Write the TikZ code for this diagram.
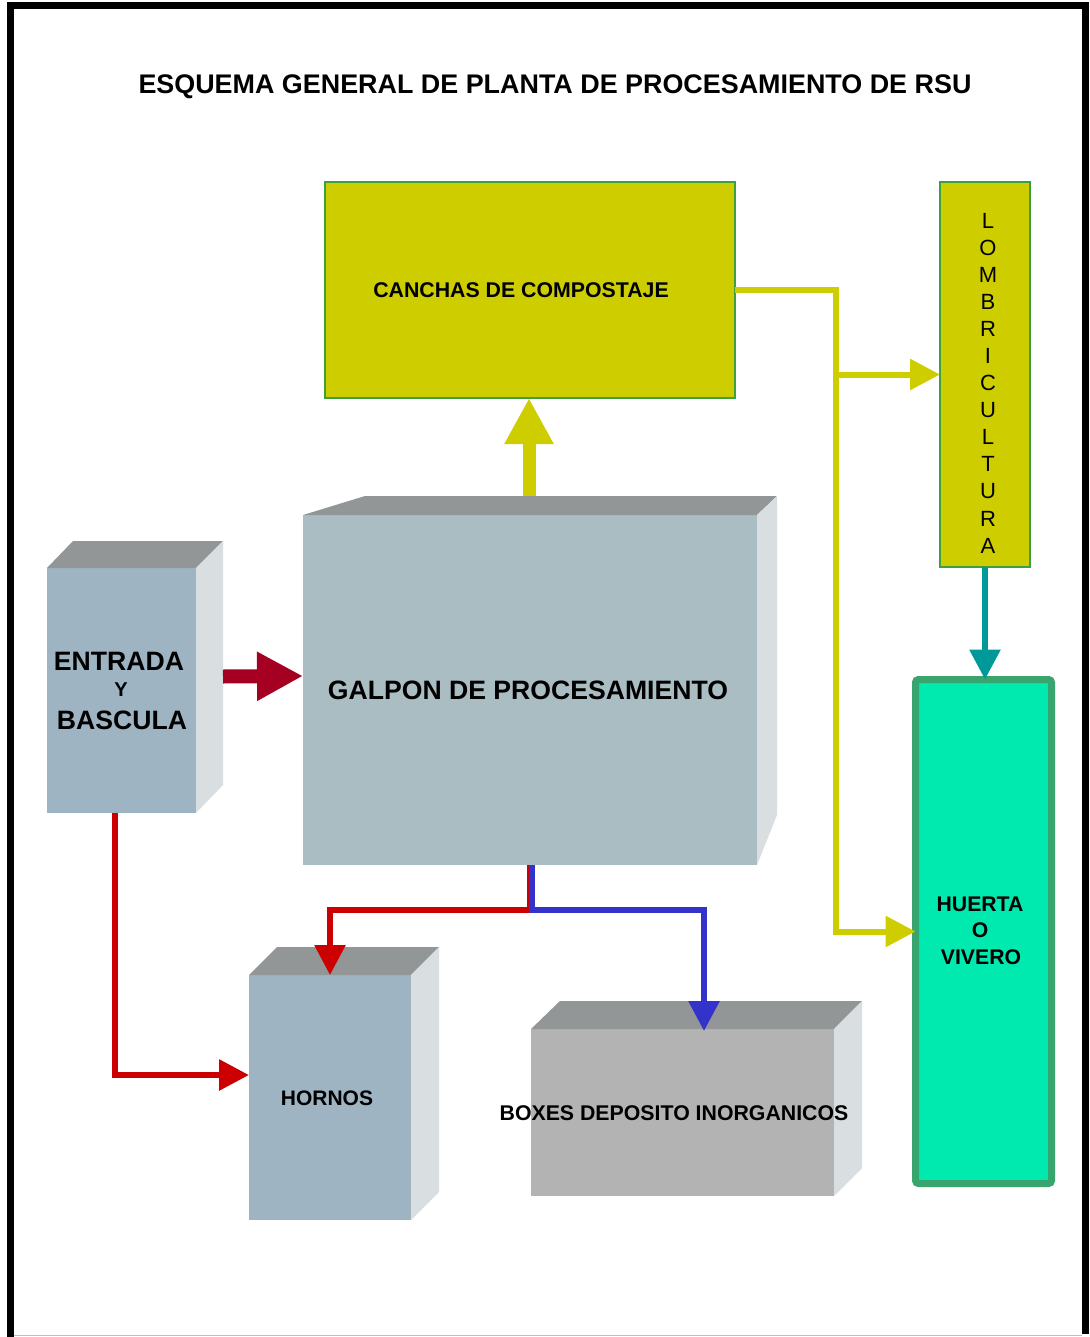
\documentclass[tikz,border=0pt]{standalone}
\usepackage{fontspec}
\setmainfont{Liberation Sans}
\usetikzlibrary{arrows.meta,calc}

\definecolor{topgray}{RGB}{147,150,150}
\definecolor{sidegray}{RGB}{217,222,224}
\definecolor{galponfill}{RGB}{169,189,194}
\definecolor{bluegray}{RGB}{158,180,194}
\definecolor{boxgray}{RGB}{179,179,179}
\definecolor{olive}{RGB}{206,205,0}
\definecolor{leafgreen}{RGB}{60,160,60}
\definecolor{mint}{RGB}{0,234,176}
\definecolor{mintedge}{RGB}{56,165,110}
\definecolor{wine}{RGB}{165,0,33}
\definecolor{redline}{RGB}{204,0,0}
\definecolor{blueline}{RGB}{51,51,204}
\definecolor{tealline}{RGB}{0,153,153}

\begin{document}
\begin{tikzpicture}[x=1pt,y=-1pt,
  face/.style={rectangle,draw=none,inner sep=0pt,outer sep=0pt},
  bigtxt/.style={font=\fontsize{26.6}{30}\selectfont\bfseries,inner sep=0pt},
  midtxt/.style={font=\fontsize{21.3}{24}\selectfont\bfseries,inner sep=0pt},
  gardentxt/.style={font=\fontsize{21.2}{24}\selectfont\bfseries,inner sep=0pt},
  lettxt/.style={font=\fontsize{22}{24}\selectfont,inner sep=0pt},
  thin arrow/.style={line width=6pt,-{Triangle[length=30pt,width=30pt]}},
  fat arrow/.style={-{Triangle[length=46pt,width=46pt]}}
]
\useasboundingbox (0,0) rectangle (1089,1337);
\fill[white] (0,0) rectangle (1089,1337);

% page frame
\draw[black,line width=7pt] (10.5,1337) -- (10.5,6) -- (1085.5,6) -- (1085.5,1334);
\draw[black!25,line width=1.5pt] (14,1335.5) -- (1082,1335.5);

% title
\node[font=\fontsize{26.9}{30}\selectfont\bfseries,inner sep=0pt,anchor=base] (title) at (555,94)
  {ESQUEMA GENERAL DE PLANTA DE PROCESAMIENTO DE RSU};

% composting yard
\node[face,draw=leafgreen,line width=1.5pt,fill=olive,minimum width=410pt,minimum height=216pt] (canchas) at (530,290) {};
\node[midtxt] (tcanchas) at (521,290) {CANCHAS DE COMPOSTAJE};

% vermiculture column
\node[face,draw=leafgreen,line width=1.5pt,fill=olive,minimum width=90pt,minimum height=385pt] (lomb) at (985,374.5) {};
\foreach \l [count=\i from 0] in {L,O,M,B,R,I,C,U,L,T,U,R,A}
  \node[lettxt] (lomb\i) at (988,220.5+27.1*\i) {\l};

% vegetable garden / nursery
\node[face,draw=mintedge,line width=7pt,fill=mint,rounded corners=3pt,minimum width=136pt,minimum height=504pt] (huerta) at (983.5,931.5) {};
\node[gardentxt] (thuerta1) at (980,904) {HUERTA};
\node[gardentxt] (thuerta2) at (980,930) {O};
\node[gardentxt] (thuerta3) at (981,957) {VIVERO};

% processing shed (3D block)
\node[face,fill=galponfill,minimum width=454pt,minimum height=350pt] (galpon) at (530,690) {};
\fill[topgray] (galpon.north west) -- ++(62,-19) -- ++(412,0) -- (galpon.north east) -- cycle;
\fill[sidegray] (galpon.north east) -- ++(20,-19) -- ++(0,319) -- (galpon.south east) -- cycle;
\node[bigtxt] (tgalpon) at (528,690) {GALPON DE PROCESAMIENTO};

% entrance and weighbridge
\node[face,fill=bluegray,minimum width=149pt,minimum height=245pt] (entrada) at (121.5,690.5) {};
\fill[topgray] (entrada.north west) -- ++(26,-27) -- ++(150,0) -- (entrada.north east) -- cycle;
\fill[sidegray] (entrada.north east) -- ++(27,-27) -- ++(0,244) -- (entrada.south east) -- cycle;
\node[bigtxt] (tentrada1) at (119,661) {ENTRADA};
\node[bigtxt,font=\fontsize{20}{22}\selectfont\bfseries] (tentrada2) at (121,690) {Y};
\node[bigtxt] (tentrada3) at (122,720) {BASCULA};

% kilns
\node[face,fill=bluegray,minimum width=162pt,minimum height=245pt] (hornos) at (330,1097.5) {};
\fill[topgray] (hornos.north west) -- ++(28,-28) -- ++(162,0) -- (hornos.north east) -- cycle;
\fill[sidegray] (hornos.north east) -- ++(28,-28) -- ++(0,245) -- (hornos.south east) -- cycle;
\node[midtxt,font=\fontsize{21}{24}\selectfont\bfseries] (thornos) at (327,1098) {HORNOS};

% inorganic storage bays
\node[face,fill=boxgray,minimum width=303pt,minimum height=167pt] (boxes) at (682.5,1112.5) {};
\fill[topgray] (boxes.north west) -- ++(29,-28) -- ++(302,0) -- (boxes.north east) -- cycle;
\fill[sidegray] (boxes.north east) -- ++(28,-28) -- ++(0,167) -- (boxes.south east) -- cycle;
\node[midtxt] (tboxes) at (674,1113) {BOXES DEPOSITO INORGANICOS};

% connectors
\coordinate (yb) at (836,290);
\coordinate (eb) at (115,1075);
\coordinate (gr) at (530,910);
\coordinate (gbl) at (531.5,910);
\coordinate (bt) at (704,1031);

% shed -> composting
\draw[olive,line width=13pt,fat arrow] ($(galpon.north)+(-1,-19)$) -- (canchas.south -| 529,0);
% entrance -> shed
\draw[wine,line width=14pt,fat arrow] ([xshift=27pt,yshift=14pt]entrada.east) -- ([yshift=14pt]galpon.west);
% compost -> vermiculture and garden
\draw[olive,thin arrow] (canchas.east) -- (yb) -- (yb |- huerta.west) -- (huerta.west);
\draw[olive,thin arrow] (yb |- lomb.west) -- (lomb.west);
% vermiculture -> garden
\draw[tealline,thin arrow] (lomb.south) -- (lomb.south |- huerta.north);
% entrance -> kilns
\draw[redline,thin arrow] (entrada.south -| eb) -- (eb) -- (eb -| hornos.west);
% shed -> kilns
\draw[redline,thin arrow] (galpon.south -| gr) -- (gr) -- (gr -| hornos.north) -- (hornos.north);
% shed -> inorganic bays
\draw[blueline,thin arrow] (galpon.south -| gbl) -- (gbl) -- (gbl -| bt) -- (bt);
\end{tikzpicture}
\end{document}
